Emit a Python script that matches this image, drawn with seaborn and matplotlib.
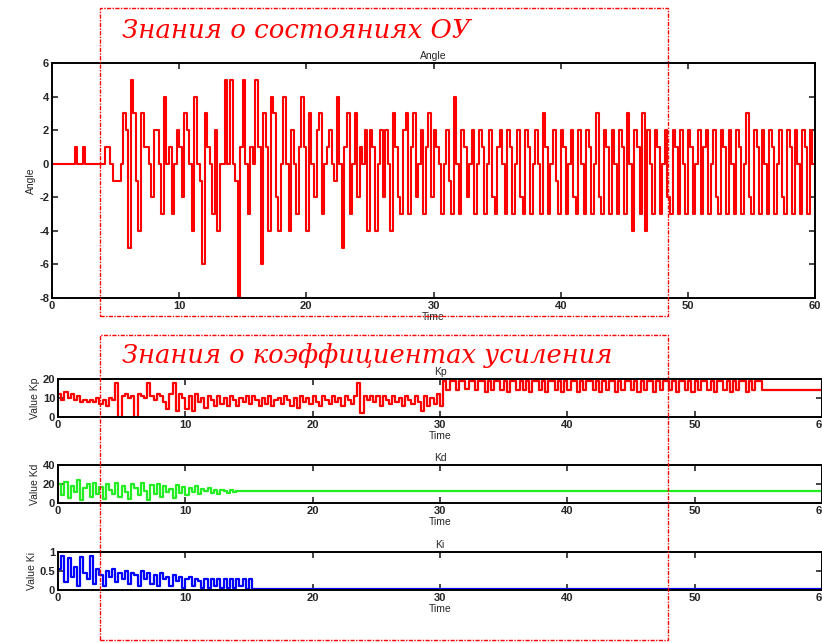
import numpy as np
import pandas as pd
import matplotlib
matplotlib.use("Agg")
import matplotlib.pyplot as plt
from matplotlib.patches import Rectangle
import seaborn as sns

# angle, sampled every 0.2 s (one row = 2 s)
angle_dt = 0.2
angle_vals = [
    0, 0, 0, 0, 0, 0, 0, 0, 0, 1,
    0, 0, 1, 0, 0, 0, 0, 0, 0, 0,
    0, 1, 1, 0, -1, -1, -1, 0, 3, 2,
    -5, 5, 3, -1, -4, 3, 1, 1, 0, -2,
    2, 2, 0, -3, 4, 0, 1, -3, 0, 2,
    1, -2, 3, 2, 0, -4, 4, 0, -1, -6,
    3, 1, 0, -3, 2, -4, 0, 0, 5, 0,
    5, 0, -1, -8, 1, 5, 0, -3, 1, 0,
    5, 1, -6, 3, 1, -4, 4, 3, -2, -4,
    0, 4, 0, -4, 2, 0, -3, 1, 4, 1,
    -4, 3, 0, -2, 2, 3, -3, 0, 1, 2,
    0, -1, 4, 0, -5, 1, 3, -3, 0, 3,
    -2, 1, 0, 2, -4, 2, 1, -4, 0, 2,
    -2, 2, 0, -4, 3, 1, -2, -3, 2, 3,
    -3, 1, 3, -2, 0, 2, -3, 1, 3, -2,
    2, 1, 0, -3, 0, 2, -1, -3, 4, 0,
    -3, 2, 1, -2, 0, 2, -3, 0, 2, 1,
    -3, 0, 2, -2, -3, 1, 2, 0, -3, 2,
    1, -3, 0, 2, -2, -3, 2, 1, -3, 0,
    2, 0, -3, 3, 1, -3, 0, 2, -1, -3,
    2, 1, -3, 0, 2, -2, -3, 2, 0, -3,
    2, 1, -3, 0, 3, -2, -3, 2, 1, -3,
    2, 0, -3, 2, 1, -3, 3, 0, -4, 2,
    1, -3, 3, -4, 2, 0, -3, 2, 1, -3,
    0, 2, -2, -3, 2, 1, -3, 2, 0, -3,
    2, 1, -3, 0, 2, -3, 1, 2, -3, 0,
    2, -2, -3, 2, 1, -3, 2, 0, -3, 2,
    1, -3, 0, 3, -2, -3, 2, 1, -3, 2,
    0, -3, 2, 1, -3, 0, 2, -2, -3, 2,
    1, -3, 2, 0, -3, 2, 1, -3, 2, 0,
]

# gains, sampled every 0.25 s while they still change, then held
gain_dt = 0.25
kp_vals = [
    12, 9, 13, 10, 12, 9, 11, 8, 9, 8,
    9, 8, 10, 7, 9, 6, 10, 9, 18, 0,
    11, 12, 10, 11, 0, 12, 11, 10, 18, 11,
    9, 12, 11, 8, 4, 12, 18, 3, 12, 10,
    4, 11, 3, 12, 8, 10, 5, 11, 9, 6,
    11, 7, 10, 6, 11, 9, 6, 10, 8, 11,
    7, 11, 9, 6, 10, 7, 11, 6, 9, 10,
    7, 11, 9, 6, 10, 5, 11, 8, 10, 7,
    11, 8, 6, 11, 9, 7, 11, 8, 10, 6,
    11, 9, 7, 11, 18, 2, 11, 9, 11, 8,
    11, 6, 11, 9, 7, 11, 8, 10, 6, 11,
    9, 7, 11, 8, 3, 11, 6, 10, 7, 12,
    6, 19, 14, 19, 19, 14, 19, 19, 15, 19,
    19, 14, 19, 19, 13, 19, 14, 19, 19, 14,
    19, 13, 19, 19, 14, 19, 14, 19, 13, 19,
    19, 14, 19, 13, 19, 19, 14, 19, 13, 19,
    14, 19, 19, 13, 19, 14, 19, 19, 14, 19,
    13, 19, 14, 19, 19, 13, 19, 14, 19, 19,
    14, 19, 13, 19, 14, 19, 19, 13, 19, 14,
    19, 19, 14, 19, 13, 19, 19, 14, 19, 13,
    19, 14, 19, 19, 14, 19, 13, 19, 19, 14,
    19, 13, 19, 14, 19, 19, 13, 19, 14, 19,
    19, 14,
]
kp_tail = 19

kd_vals = [
    20, 8, 22, 5, 18, 12, 24, 3, 16, 20,
    6, 21, 10, 17, 4, 20, 14, 9, 21, 6,
    18, 12, 4, 20, 16, 8, 21, 13, 3, 19,
    10, 20, 6, 18, 12, 15, 5, 19, 11, 17,
    8, 16, 12, 18, 10, 15, 13, 16, 11, 14,
    10, 14, 13, 11, 14, 12, 13,
]
kd_tail = 13

ki_vals = [
    0.55, 0.9, 0.2, 0.85, 0.35, 0.6, 0.1, 0.88, 0.45, 0.3,
    0.9, 0.15, 0.55, 0.4, 0.1, 0.5, 0.35, 0.55, 0.2, 0.45,
    0.3, 0.5, 0.15, 0.45, 0.4, 0.1, 0.5, 0.3, 0.45, 0.15,
    0.4, 0.1, 0.45, 0.3, 0.35, 0.1, 0.4, 0.25, 0.35, 0.05,
    0.3, 0.35, 0.1, 0.3, 0.25, 0.05, 0.3, 0.05, 0.3, 0.1,
    0.3, 0.05, 0.3, 0.05, 0.3, 0.05, 0.3, 0.1, 0.3, 0.02, 0.3, 0.02,
]
ki_tail = 0.02

t_end = 60
title_top = "Знания о состояниях ОУ"
title_bottom = "Знания о коэффициентах усиления"


def series(vals, dt, tail):
    t = list(np.arange(len(vals)) * dt) + [t_end]
    v = list(vals) + [tail]
    return pd.DataFrame({"Time": t, "Value": v})


sns.set_style("ticks")
plt.rcParams["font.family"] = ["Liberation Sans", "DejaVu Sans"]
plt.rcParams["xtick.direction"] = "in"
plt.rcParams["ytick.direction"] = "in"
plt.rcParams["xtick.major.size"] = 4
plt.rcParams["ytick.major.size"] = 4
plt.rcParams["axes.linewidth"] = 1.4

fig = plt.figure(figsize=(8.22, 6.43), dpi=100)


def style(ax, ylim, yticks, yticklabels, title, ylabel):
    ax.set_xlim(0, t_end)
    ax.set_ylim(*ylim)
    ax.set_xticks(range(0, 61, 10))
    ax.set_yticks(yticks)
    ax.set_yticklabels(yticklabels)
    ax.tick_params(top=True, right=True, labelsize=8, width=1.2, pad=2)
    for lab in ax.get_xticklabels() + ax.get_yticklabels():
        lab.set_fontweight("bold")
    ax.set_title(title, fontsize=7.5, pad=3)
    ax.set_xlabel("Time", fontsize=7.5, labelpad=1)
    ax.set_ylabel(ylabel, fontsize=7.5, labelpad=2)
    for s in ax.spines.values():
        s.set_visible(True)
        s.set_color("black")


# top panel: angle
ax = fig.add_axes([52 / 822, 1 - 298 / 643, 763 / 822, 235 / 643])
df_a = series(angle_vals, angle_dt, angle_vals[-1])
sns.lineplot(data=df_a, x="Time", y="Value", drawstyle="steps-post",
             estimator=None, sort=False, color="red", lw=1.5, ax=ax)
style(ax, (-8, 6), range(-8, 7, 2), [str(v) for v in range(-8, 7, 2)], "Angle", "Angle")

# gain panels
panels = [
    (kp_vals, kp_tail, "red", (0, 20), [0, 10, 20], ["0", "10", "20"], "Kp", "Value Kp", 417),
    (kd_vals, kd_tail, "#22ee22", (0, 40), [0, 20, 40], ["0", "20", "40"], "Kd", "Value Kd", 503),
    (ki_vals, ki_tail, "blue", (0, 1), [0, 0.5, 1], ["0", "0.5", "1"], "Ki", "Value Ki", 590),
]
for vals, tail, col, ylim, yt, ytl, name, ylab, ybot in panels:
    ax = fig.add_axes([58 / 822, 1 - ybot / 643, 764 / 822, 38 / 643])
    df_g = series(vals, gain_dt, tail)
    sns.lineplot(data=df_g, x="Time", y="Value", drawstyle="steps-post",
                 estimator=None, sort=False, color=col, lw=1.6, ax=ax)
    style(ax, ylim, yt, ytl, name, ylab)

# red dotted frames and captions
for y0, h in [(1 - 316 / 643, 308 / 643), (1 - 640 / 643, 305 / 643)]:
    fig.patches.append(Rectangle((100 / 822, y0), 568 / 822, h, transform=fig.transFigure,
                                 fill=False, edgecolor="red", lw=1.0,
                                 linestyle=(0, (3, 1, 1, 1)), zorder=10))
fig.text(122 / 822, 1 - 30 / 643, title_top, color="red", fontsize=18.7,
         family="DejaVu Serif", style="italic", va="center")
fig.text(122 / 822, 1 - 355 / 643, title_bottom, color="red", fontsize=18.5,
         family="DejaVu Serif", style="italic", va="center")

fig.savefig("out.png", dpi=100)
